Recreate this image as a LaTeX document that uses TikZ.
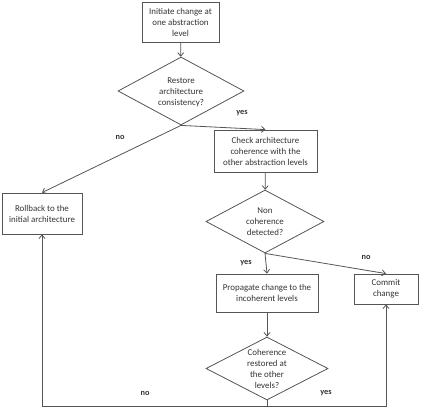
\documentclass[tikz,border=0pt]{standalone}
\usepackage{fontspec}
\setmainfont{Carlito}
\usetikzlibrary{shapes.geometric,arrows.meta}
\definecolor{ln}{HTML}{555555}
\definecolor{tx}{HTML}{333333}
\begin{document}
\begin{tikzpicture}[x=1pt,y=-1pt,
  every node/.style={text=tx},
  txt/.style={font=\fontsize{8.9}{11}\selectfont, align=center, inner sep=0pt},
  boxnode/.style={draw=ln, line width=0.8pt, rectangle, inner sep=0pt, font=\fontsize{8.9}{11}\selectfont, align=center},
  dia/.style={draw=ln, line width=0.8pt, diamond, inner sep=0pt},
  lbl/.style={font=\fontsize{8.3}{10}\selectfont\bfseries, inner sep=0pt},
  conn/.style={draw=ln, line width=0.8pt, -{Straight Barb[length=3.5pt,width=6pt]}},
  plain/.style={draw=ln, line width=0.8pt}]
\useasboundingbox (0,0) rectangle (423,410);
\node[boxnode, minimum width=77pt, minimum height=40pt] (init) at (180.5,22) {Initiate change at\\one abstraction\\level};
\node[dia, minimum width=126pt, minimum height=68pt] (d1) at (181,91) {};
\node[txt] (d1t) at (181,92) {Restore\\architecture\\consistency?};
\node[boxnode, minimum width=103pt, minimum height=42pt] (check) at (265.5,151) {Check architecture\\coherence with the\\other abstraction levels};
\node[dia, minimum width=118pt, minimum height=63pt] (d2) at (265,221.5) {};
\node[txt] (d2t) at (265,222) {Non\\coherence\\detected?};
\node[boxnode, minimum width=80pt, minimum height=41pt] (roll) at (42,213.5) {Rollback to the\\initial architecture};
\node[boxnode, minimum width=102pt, minimum height=38pt] (prop) at (267,293) {Propagate change to the\\incoherent levels};
\node[boxnode, minimum width=64pt, minimum height=30pt] (commit) at (386,289) {Commit\\change};
\node[dia, minimum width=122pt, minimum height=63pt] (d3) at (267,368.5) {};
\node[txt] (d3t) at (267,369) {Coherence\\restored at\\the other\\levels?};
\draw[conn] (init) -- (d1);
\draw[conn] (d1.south) -- (check.north);
\draw[conn] (d1.south) -- (roll.north);
\draw[conn] (check) -- (d2);
\draw[conn] (d2.south) -- (prop.north);
\draw[conn] (d2.south) -- (commit.north);
\draw[conn] (prop) -- (d3);
\coordinate (bot) at (267,406);
\draw[plain] (d3.south) -- (bot);
\draw[conn] (bot) -| (roll.south);
\draw[conn] (bot) -| (commit.south);
\node[lbl] (l1) at (242,113) {yes};
\node[lbl] (l2) at (120,137) {no};
\node[lbl] (l3) at (246,263) {yes};
\node[lbl] (l4) at (366,257) {no};
\node[lbl] (l5) at (145,393) {no};
\node[lbl] (l6) at (326,393) {yes};
\end{tikzpicture}
\end{document}
